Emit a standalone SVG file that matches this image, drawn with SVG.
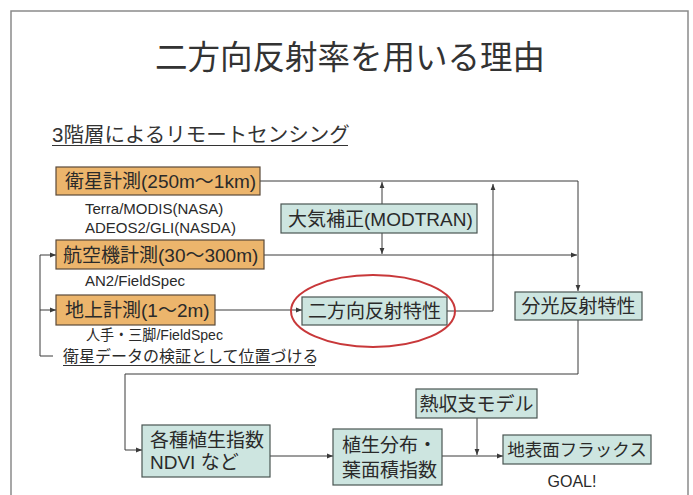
<svg xmlns="http://www.w3.org/2000/svg" width="693" height="495" viewBox="0 0 693 495">
<defs>
<style>
text{font-family:"Liberation Sans","Noto Sans CJK JP",sans-serif;fill:#2a2a2a}
.ob{fill:#ECB56C;stroke:#5a4a3a;stroke-width:1.2}
.tb{fill:#CDE5E0;stroke:#4a5552;stroke-width:1.2}
.bt{font-size:19px}
.st{font-size:15px}
.ln{fill:none;stroke:#3a3a3a;stroke-width:1}
</style>
<marker id="ah" viewBox="0 0 10 10" refX="10" refY="5" markerWidth="6" markerHeight="6" orient="auto" markerUnits="userSpaceOnUse">
<path d="M0,1 L10,5 L0,9 z" fill="#3a3a3a"/>
</marker>
</defs>
<rect x="0" y="0" width="693" height="495" fill="#ffffff"/>
<rect x="11" y="11" width="677" height="495" fill="none" stroke="#8a8a8a" stroke-width="1.5"/>
<text x="350" y="69" text-anchor="middle" font-size="32.5" style="fill:#333">二方向反射率を用いる理由</text>
<text x="52" y="142" font-size="20.5" style="fill:#333">3階層によるリモートセンシング</text>
<line x1="52" y1="145.5" x2="348" y2="145.5" stroke="#333" stroke-width="1.2"/>

<g id="connectors">
<polyline class="ln" points="260,181 578,181 578,291" marker-end="url(#ah)"/>
<polyline class="ln" points="264,255 577,255" marker-end="url(#ah)"/>
<polyline class="ln" points="382,204 382,182" marker-end="url(#ah)"/>
<polyline class="ln" points="382,233 382,254" marker-end="url(#ah)"/>
<polyline class="ln" points="215,310 302,310" marker-end="url(#ah)"/>
<polyline class="ln" points="447,311 493,311 493,184" marker-end="url(#ah)"/>
<polyline class="ln" points="53,356 40,356 40,255 56,255" marker-end="url(#ah)"/>
<polyline class="ln" points="40,310 56,310" marker-end="url(#ah)"/>
<polyline class="ln" points="578,320 578,374 125,374 125,450 142,450" marker-end="url(#ah)"/>
<polyline class="ln" points="270,456 333,456" marker-end="url(#ah)"/>
<polyline class="ln" points="442,456 503,456" marker-end="url(#ah)"/>
<polyline class="ln" points="477,418 477,455" marker-end="url(#ah)"/>
</g>

<g id="sat">
<rect class="ob" x="56" y="167" width="204" height="28"/>
<text class="bt" x="65" y="188">衛星計測(250m〜1km)</text>
<text class="st" x="85" y="214">Terra/MODIS(NASA)</text>
<text class="st" x="85" y="233">ADEOS2/GLI(NASDA)</text>
</g>
<g id="air">
<rect class="ob" x="56" y="240" width="208" height="29"/>
<text class="bt" x="63" y="261.5">航空機計測(30〜300m)</text>
<text class="st" x="85" y="286">AN2/FieldSpec</text>
</g>
<g id="ground">
<rect class="ob" x="56" y="295" width="159" height="30"/>
<text class="bt" x="65" y="317">地上計測(1〜2m)</text>
<text class="st" x="86" y="340" textLength="137" lengthAdjust="spacingAndGlyphs">人手・三脚/FieldSpec</text>
</g>
<g id="verify">
<text x="63" y="362" font-size="16">衛星データの検証として位置づける</text>
<line x1="63" y1="365.5" x2="315" y2="365.5" stroke="#333" stroke-width="1"/>
</g>
<g id="atm">
<rect class="tb" x="281" y="204" width="196" height="29"/>
<text class="bt" x="288" y="225.5">大気補正(MODTRAN)</text>
</g>
<g id="brdf">
<rect class="tb" x="302" y="297" width="145" height="28"/>
<text class="bt" x="374.5" y="318" text-anchor="middle">二方向反射特性</text>
<ellipse cx="373" cy="311" rx="82" ry="36" fill="none" stroke="#c8383a" stroke-width="2"/>
</g>
<g id="spec">
<rect class="tb" x="515" y="292" width="127" height="28"/>
<text class="bt" x="578.5" y="313" text-anchor="middle">分光反射特性</text>
</g>
<g id="ndvi">
<rect class="tb" x="142" y="425" width="128" height="52"/>
<text class="bt" x="150" y="447">各種植生指数</text>
<text class="bt" x="150" y="469">NDVI など</text>
</g>
<g id="lai">
<rect class="tb" x="333" y="429" width="109" height="56"/>
<text class="bt" x="342" y="452">植生分布・</text>
<text class="bt" x="342" y="477">葉面積指数</text>
</g>
<g id="heat">
<rect class="tb" x="416" y="389" width="121" height="29"/>
<text class="bt" x="476.5" y="410.5" text-anchor="middle">熱収支モデル</text>
</g>
<g id="flux">
<rect class="tb" x="503" y="435" width="148" height="29"/>
<text x="577" y="456" text-anchor="middle" font-size="17.5">地表面フラックス</text>
<text x="572" y="487" text-anchor="middle" font-size="16">GOAL!</text>
</g>
</svg>
